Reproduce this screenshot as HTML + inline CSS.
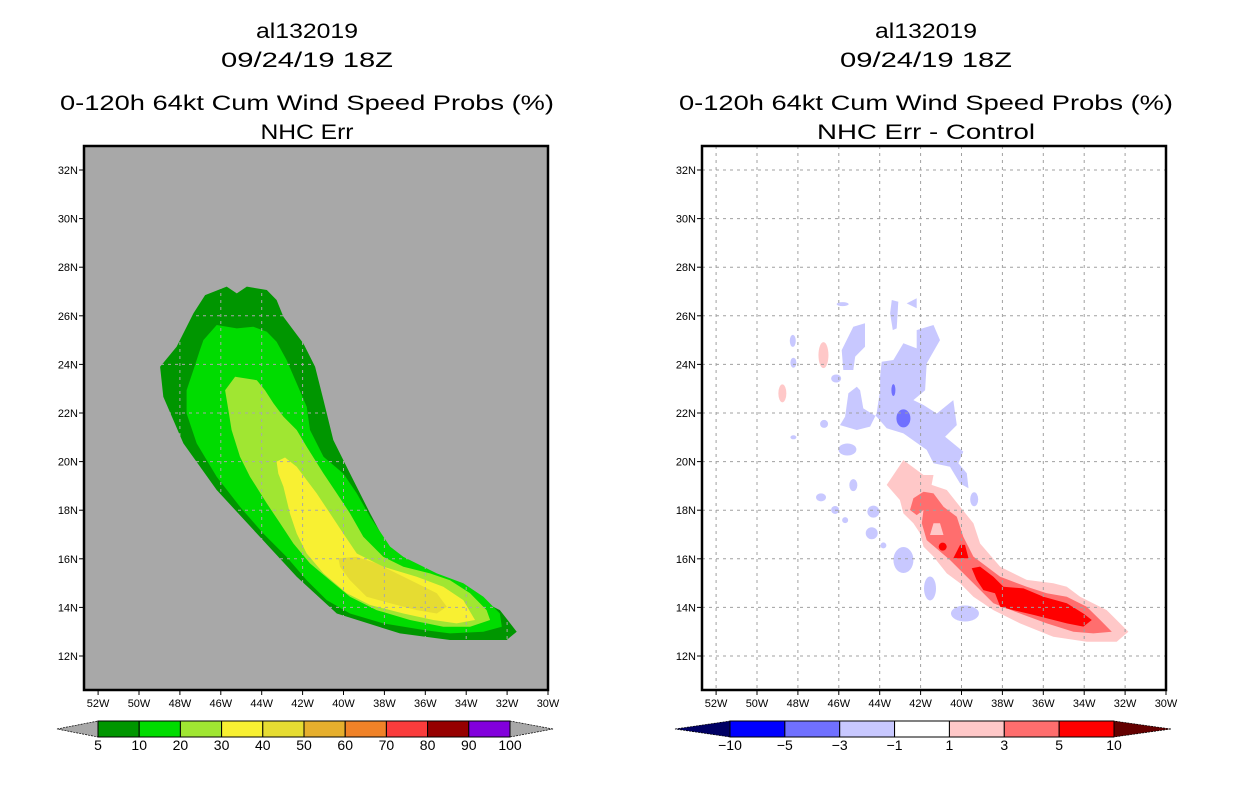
<!DOCTYPE html>
<html><head><meta charset="utf-8"><style>
body{margin:0;background:#fff}
svg{display:block;font-family:"Liberation Sans",sans-serif}
</style></head><body>
<svg id="s" width="1236" height="800" xmlns="http://www.w3.org/2000/svg">
<rect width="1236" height="800" fill="#fff"/>
<g font-size="21" text-anchor="middle">
<text x="307" y="38" textLength="102" lengthAdjust="spacingAndGlyphs">al132019</text>
<text x="307" y="67" textLength="172" lengthAdjust="spacingAndGlyphs">09/24/19 18Z</text>
<text x="307" y="110" textLength="494" lengthAdjust="spacingAndGlyphs">0-120h 64kt Cum Wind Speed Probs (%)</text>
<text x="307" y="139" textLength="93" lengthAdjust="spacingAndGlyphs">NHC Err</text>
</g>
<g font-size="21" text-anchor="middle">
<text x="926" y="38" textLength="102" lengthAdjust="spacingAndGlyphs">al132019</text>
<text x="926" y="67" textLength="172" lengthAdjust="spacingAndGlyphs">09/24/19 18Z</text>
<text x="926" y="110" textLength="494" lengthAdjust="spacingAndGlyphs">0-120h 64kt Cum Wind Speed Probs (%)</text>
<text x="926" y="139" textLength="218" lengthAdjust="spacingAndGlyphs">NHC Err - Control</text>
</g>
</svg>
<script>
const lonTicks=[-52,-50,-48,-46,-44,-42,-40,-38,-36,-34,-32,-30];
const latTicks=[12,14,16,18,20,22,24,26,28,30,32];
const probLevels=["5","10","20","30","40","50","60","70","80","90","100"];
const probColors=["#009600","#00dc00","#a0e632","#f8f032","#e6dc32","#e6af2d","#f08228","#fa3c3c","#960000","#8200dc"];
const diffLevels=["-10","-5","-3","-1","1","3","5","10"];
const diffColors=["#0000ff","#7070ff","#c8c8ff","#ffffff","#ffc8c8","#ff6e6e","#ff0000"];
const p5=[[-46.77,26.85],[-45.71,27.2],[-45.22,26.92],[-44.73,27.2],[-43.75,27.06],[-43.27,26.65],[-42.94,25.96],[-41.96,24.86],[-41.39,23.9],[-40.98,22.53],[-40.5,20.89],[-39.68,19.51],[-38.7,17.87],[-37.56,16.08],[-35.28,15.12],[-33.32,14.3],[-32.35,13.89],[-31.53,13.0],[-32.02,12.66],[-34.79,12.66],[-37.24,12.93],[-40.33,13.75],[-42.29,15.26],[-44.24,17.04],[-46.2,18.83],[-47.83,20.75],[-48.81,22.67],[-48.97,23.9],[-48.16,24.73],[-47.34,26.1]];
const p10=[[-46.85,25.0],[-46.2,25.62],[-45.22,25.48],[-44.41,25.55],[-43.75,25.34],[-43.27,24.93],[-42.78,24.18],[-42.29,23.22],[-41.8,22.26],[-41.64,21.3],[-40.98,20.2],[-40.01,19.51],[-39.35,18.69],[-38.7,17.73],[-37.72,16.5],[-37.07,16.08],[-35.44,15.4],[-34.14,14.99],[-33.16,14.44],[-32.35,13.75],[-32.26,13.2],[-33.16,13.0],[-34.79,12.93],[-36.09,13.07],[-38.05,13.34],[-39.68,13.75],[-40.82,14.3],[-41.8,15.12],[-42.78,16.08],[-43.92,17.04],[-45.06,18.14],[-46.2,19.38],[-47.18,20.75],[-47.67,21.98],[-47.67,22.94],[-47.34,23.77],[-47.02,24.59]];
const p20=[[-45.3,23.49],[-44.24,23.35],[-43.84,22.94],[-43.43,22.4],[-42.94,21.85],[-42.29,21.3],[-41.8,20.61],[-40.98,19.51],[-40.33,18.69],[-39.68,17.87],[-39.03,16.91],[-38.05,16.08],[-37.07,15.67],[-35.77,15.4],[-34.79,15.12],[-33.81,14.58],[-33.0,13.89],[-32.83,13.48],[-33.81,13.2],[-35.12,13.2],[-36.75,13.48],[-38.38,13.89],[-39.68,14.44],[-40.66,15.12],[-41.64,15.81],[-42.45,16.63],[-43.1,17.46],[-43.75,18.28],[-44.57,19.38],[-45.06,20.2],[-45.47,21.3],[-45.63,22.12],[-45.79,22.94]];
const p30=[[-43.27,20.0],[-42.86,20.17],[-42.29,19.79],[-41.8,19.24],[-41.31,18.69],[-40.66,17.87],[-40.01,17.04],[-39.35,16.22],[-38.05,15.67],[-36.42,15.26],[-35.12,14.85],[-34.14,14.3],[-33.57,13.48],[-34.47,13.34],[-35.61,13.48],[-37.07,13.75],[-38.7,14.1],[-39.84,14.58],[-40.98,15.4],[-41.8,16.22],[-42.29,17.04],[-42.62,17.87],[-42.94,18.97],[-43.19,19.51]];
const p40=[[-40.25,16.02],[-39.35,16.08],[-38.38,15.81],[-37.4,15.4],[-36.42,14.99],[-35.44,14.58],[-34.95,14.03],[-35.44,13.75],[-36.42,13.89],[-37.72,14.17],[-38.87,14.44],[-39.68,15.12],[-40.17,15.67]];
const dBlueArm=[[-45.86,24.59],[-45.29,25.55],[-44.72,25.69],[-44.72,24.73],[-45.2,24.32],[-45.29,23.77],[-45.78,23.77]];
const dBlueMain=[[-43.9,24.11],[-43.33,24.18],[-42.84,24.87],[-42.19,24.66],[-42.19,25.41],[-41.37,25.62],[-41.05,25.0],[-41.7,24.04],[-41.78,22.94],[-42.35,22.53],[-41.86,22.33],[-41.21,21.98],[-40.4,22.53],[-40.23,21.5],[-40.8,21.02],[-39.91,20.41],[-40.15,19.93],[-39.74,19.52],[-39.66,18.9],[-40.07,19.1],[-40.56,19.79],[-41.37,19.93],[-41.7,20.48],[-42.84,21.16],[-43.66,21.37],[-44.15,21.85],[-44.8,22.19],[-44.96,22.94],[-45.12,23.08],[-45.53,22.81],[-45.69,21.85],[-45.94,21.5],[-45.12,21.3],[-44.47,21.44],[-44.15,21.98],[-43.98,22.94],[-43.98,23.49]];
const dBlueTop=[[-43.41,26.65],[-43.09,26.58],[-43.17,25.48],[-43.36,25.41],[-43.49,26.1]];
const dBlueTop2=[[-42.68,26.51],[-42.19,26.72],[-42.19,26.31]];
const dBlueBlobs=[[-45.58,20.5,9,6],[-42.84,15.95,10,13],[-41.54,14.78,6,12],[-39.83,13.75,14,8],[-44.31,17.94,6,6],[-44.39,17.05,6,6],[-45.29,19.03,4,6],[-46.87,18.53,5,4],[-46.18,18.01,4,4],[-39.38,18.45,4,7],[-48.25,24.97,3,6],[-48.22,24.07,3,5],[-46.13,23.42,5,4],[-46.72,21.55,4,4],[-45.81,26.48,6,2],[-48.22,21.0,3,2],[-43.82,16.55,3,3],[-45.69,17.59,3,3]];
const dDarkBlue=[[-42.84,21.78,7,9],[-43.33,22.94,2,6]];
const dPink=[[-43.66,19.04],[-42.84,20.06],[-41.86,19.45],[-41.37,19.45],[-41.46,19.04],[-40.72,18.83],[-40.07,18.14],[-39.42,17.46],[-39.09,16.63],[-38.11,15.67],[-36.81,15.13],[-35.51,14.99],[-34.85,14.85],[-34.2,14.44],[-32.9,13.89],[-32.25,13.34],[-31.84,13.0],[-32.41,12.59],[-33.88,12.59],[-35.51,12.79],[-37.14,13.34],[-38.44,13.89],[-39.42,14.44],[-40.07,14.99],[-40.72,15.4],[-41.37,16.09],[-41.86,16.5],[-42.03,17.05],[-42.35,17.46],[-42.84,17.87],[-43.01,18.42]];
const dPinkBlobs=[[-46.75,24.38,5,13],[-48.76,22.81,4,9]];
const dMid=[[-42.52,18.01],[-42.35,18.49],[-41.86,18.76],[-41.37,18.69],[-40.88,18.14],[-40.23,17.73],[-39.91,16.91],[-39.42,16.09],[-38.11,15.26],[-36.81,14.85],[-35.83,14.58],[-34.85,14.44],[-33.88,14.03],[-33.22,13.48],[-32.65,13.0],[-33.55,12.93],[-34.53,13.0],[-35.83,13.34],[-37.14,13.75],[-38.44,14.17],[-39.42,14.99],[-40.56,15.95],[-41.7,16.77],[-41.94,17.46],[-41.86,18.01],[-42.19,17.8]];
const dMidHole=[[-41.37,17.46],[-41.05,17.46],[-40.88,16.98],[-41.54,16.98]];
const dRed=[[-39.5,15.61],[-39.09,15.68],[-38.44,15.26],[-37.95,14.85],[-36.97,14.78],[-35.99,14.44],[-34.85,14.17],[-34.04,13.75],[-33.63,13.48],[-34.04,13.21],[-34.85,13.34],[-36.48,13.69],[-37.46,13.89],[-38.11,14.03],[-38.36,14.58],[-38.93,14.71],[-39.26,15.13]];
const dRed2=[[-40.07,16.57],[-39.83,16.57],[-39.66,16.02],[-40.4,16.02]];
const dRedBlobs=[[-40.92,16.5,4,4]];

const NS="http://www.w3.org/2000/svg";
const svg=document.getElementById('s');
function mk(tag,attrs,parent){const e=document.createElementNS(NS,tag);for(const k in attrs)e.setAttribute(k,attrs[k]);(parent||svg).appendChild(e);return e;}
const yOf=lat=>656-(lat-12)*24.3;
function panel(right){
  const x0=right?702:84, xr=right?1166:548;
  const xOf=lon=>xr+(lon+30)*20.45;
  const toPts=pts=>pts.map(q=>xOf(q[0]).toFixed(1)+','+yOf(q[1]).toFixed(1)).join(' ');
  const g=mk('g',{});
  
  
  const clipId=right?'cr':'cl';
  const cp=mk('clipPath',{id:clipId},g);mk('rect',{x:x0,y:146,width:xr-x0,height:544},cp);
  mk('rect',{x:x0,y:146,width:xr-x0,height:544,fill:right?'#fff':'#a8a8a8'},g);
  const cg=mk('g',{'clip-path':'url(#'+clipId+')'},g);
  const poly=(pts,fill,name)=>{const p=mk('polygon',{points:toPts(pts),fill:fill},cg);
    };
  const blobs=(arr,fill,name)=>arr.forEach(b=>{const e=mk('ellipse',{cx:xOf(b[0]),cy:yOf(b[1]),rx:b[2],ry:b[3],fill:fill},cg);
    });
  if(!right){
    poly(p5,probColors[0],'contour-5');poly(p10,probColors[1],'contour-10');poly(p20,probColors[2],'contour-20');
    poly(p30,probColors[3],'contour-30');poly(p40,probColors[4],'contour-40');
  } else {
    poly(dBlueArm,diffColors[2],'contour-neg1');poly(dBlueMain,diffColors[2],'contour-neg1');
    poly(dBlueTop,diffColors[2],'contour-neg1');poly(dBlueTop2,diffColors[2],'contour-neg1');
    blobs(dBlueBlobs,diffColors[2],'contour-neg1');blobs(dDarkBlue,diffColors[1],'contour-neg3');
    poly(dPink,diffColors[4],'contour-pos1');blobs(dPinkBlobs,diffColors[4],'contour-pos1');
    poly(dMid,diffColors[5],'contour-pos3');poly(dMidHole,diffColors[4],'contour-pos1');
    poly(dRed,diffColors[6],'contour-pos5');poly(dRed2,diffColors[6],'contour-pos5');blobs(dRedBlobs,diffColors[6],'contour-pos5');
  }
  const gc=right?'#a0a0a0':'#a8a8a8';
  lonTicks.forEach(l=>{const x=xOf(l);mk('line',{x1:x,x2:x,y1:146,y2:690,stroke:gc,'stroke-width':1,'stroke-dasharray':'3,4'},cg);});
  latTicks.forEach(l=>{const y=yOf(l);mk('line',{x1:x0,x2:xr,y1:y,y2:y,stroke:gc,'stroke-width':1,'stroke-dasharray':'3,4'},cg);});
  mk('rect',{x:x0,y:146,width:xr-x0,height:544,fill:'none',stroke:'#000','stroke-width':2.5},g);
  lonTicks.forEach(l=>{const x=xOf(l);mk('line',{x1:x,x2:x,y1:690,y2:695,stroke:'#000'},g);
    const t=mk('text',{x:x,y:707,'font-size':11,'text-anchor':'middle'},g);t.textContent=Math.abs(l)+'W';
    });
  latTicks.forEach(l=>{const y=yOf(l);mk('line',{x1:x0-5,x2:x0,y1:y,y2:y,stroke:'#000'},g);
    const t=mk('text',{x:x0-6,y:y+4,'font-size':11,'text-anchor':'end'},g);t.textContent=l+'N';
    });
}
panel(false);panel(true);
function colorbar(levels,colors,bx0,bx1,tipL,tipR,leftTip,rightTip,name){
  const g=mk('g',{});
  const w=(bx1-bx0)/colors.length, y0=721,y1=737,ym=729;
  mk('polygon',{points:`${tipL},${ym} ${bx0},${y0} ${bx0},${y1}`,fill:leftTip,stroke:'#000','stroke-width':0.7,'stroke-dasharray':'2,1'},g);
  mk('polygon',{points:`${tipR},${ym} ${bx1},${y0} ${bx1},${y1}`,fill:rightTip,stroke:'#000','stroke-width':0.7,'stroke-dasharray':'2,1'},g);
  colors.forEach((c,i)=>{const r=mk('rect',{x:bx0+i*w,y:y0,width:w,height:y1-y0,fill:c,stroke:'#000','stroke-width':1},g);
    });
  levels.forEach((l,i)=>{const t=mk('text',{x:bx0+i*w,y:750,'font-size':14,'text-anchor':'middle'},g);t.textContent=l.replace('-','\u2212');
    });
}
colorbar(probLevels,probColors,98,510,57,553,'#a8a8a8','#a8a8a8','prob-colorbar');
colorbar(diffLevels,diffColors,730,1114,675,1171,'#000064','#640000','diff-colorbar');
</script>
</body></html>
